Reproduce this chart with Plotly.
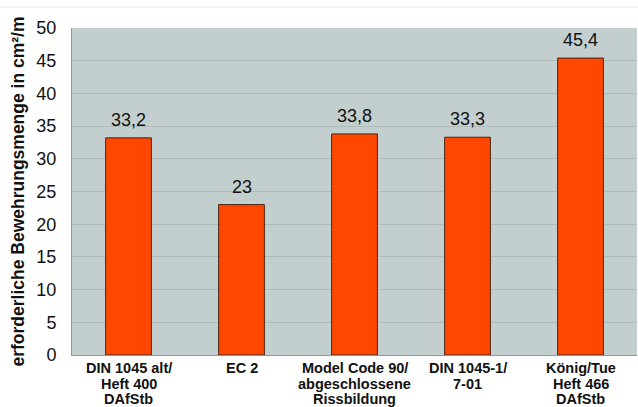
import plotly.graph_objects as go

# Required reinforcement per design approach
categories = ["DIN 1045 alt/", "EC 2", "Model Code 90/", "DIN 1045-1/", "König/Tue"]
category_lines = [
    ["DIN 1045 alt/", "Heft 400", "DAfStb"],
    ["EC 2"],
    ["Model Code 90/", "abgeschlossene", "Rissbildung"],
    ["DIN 1045-1/", "7-01"],
    ["König/Tue", "Heft 466", "DAfStb"],
]
values = [33.2, 23.0, 33.8, 33.3, 45.4]
value_labels = ["33,2", "23", "33,8", "33,3", "45,4"]
y_ticks = [0, 5, 10, 15, 20, 25, 30, 35, 40, 45, 50]

FONT = "Liberation Sans, Arial, sans-serif"

fig = go.Figure(
    go.Bar(
        x=categories,
        y=values,
        marker=dict(color="#FF4700", line=dict(color="#4A2418", width=1)),
        hoverinfo="skip",
    )
)

annotations = []
# value labels above bars
for cat, v, lab in zip(categories, values, value_labels):
    annotations.append(dict(
        x=cat, y=v, xref="x", yref="y", text=lab, showarrow=False,
        yanchor="bottom", yshift=6, font=dict(family=FONT, size=18, color="#111111"),
    ))
# multi-line category labels below the axis
for cat, lines in zip(categories, category_lines):
    for i, line in enumerate(lines):
        annotations.append(dict(
            x=cat, y=0, xref="x", yref="y", text=f"<b>{line}</b>", showarrow=False,
            yanchor="middle", yshift=-(13 + 15.5 * i),
            font=dict(family=FONT, size=14.5, color="#111111"),
        ))

fig.update_layout(
    width=638, height=407,
    margin=dict(l=72, r=1, t=28, b=52),
    paper_bgcolor="white",
    plot_bgcolor="#C3CECE",
    bargap=0.595,
    showlegend=False,
    font=dict(family=FONT, color="#111111"),
    annotations=annotations,
    shapes=[dict(type="line", xref="paper", yref="paper", x0=-0.2, x1=1.1,
                 y0=1 + 21 / 327, y1=1 + 21 / 327,
                 line=dict(color="#E6EAEA", width=1))],
)

fig.update_xaxes(
    showticklabels=False, showgrid=False,
    showline=True, linecolor="#8E9898", linewidth=1,
    fixedrange=True,
)
fig.update_yaxes(
    range=[0, 50], tickvals=y_ticks,
    tickfont=dict(family=FONT, size=18, color="#111111"),
    ticklabelstandoff=11,
    showgrid=True, gridcolor="#AFBBBB", gridwidth=1,
    showline=True, linecolor="#8E9898", linewidth=1,
    zeroline=False,
    title=dict(text="<b>erforderliche Bewehrungsmenge in cm²/m</b>",
               font=dict(family=FONT, size=17.5, color="#111111"), standoff=7),
    fixedrange=True,
)

fig.write_html("out.html")
